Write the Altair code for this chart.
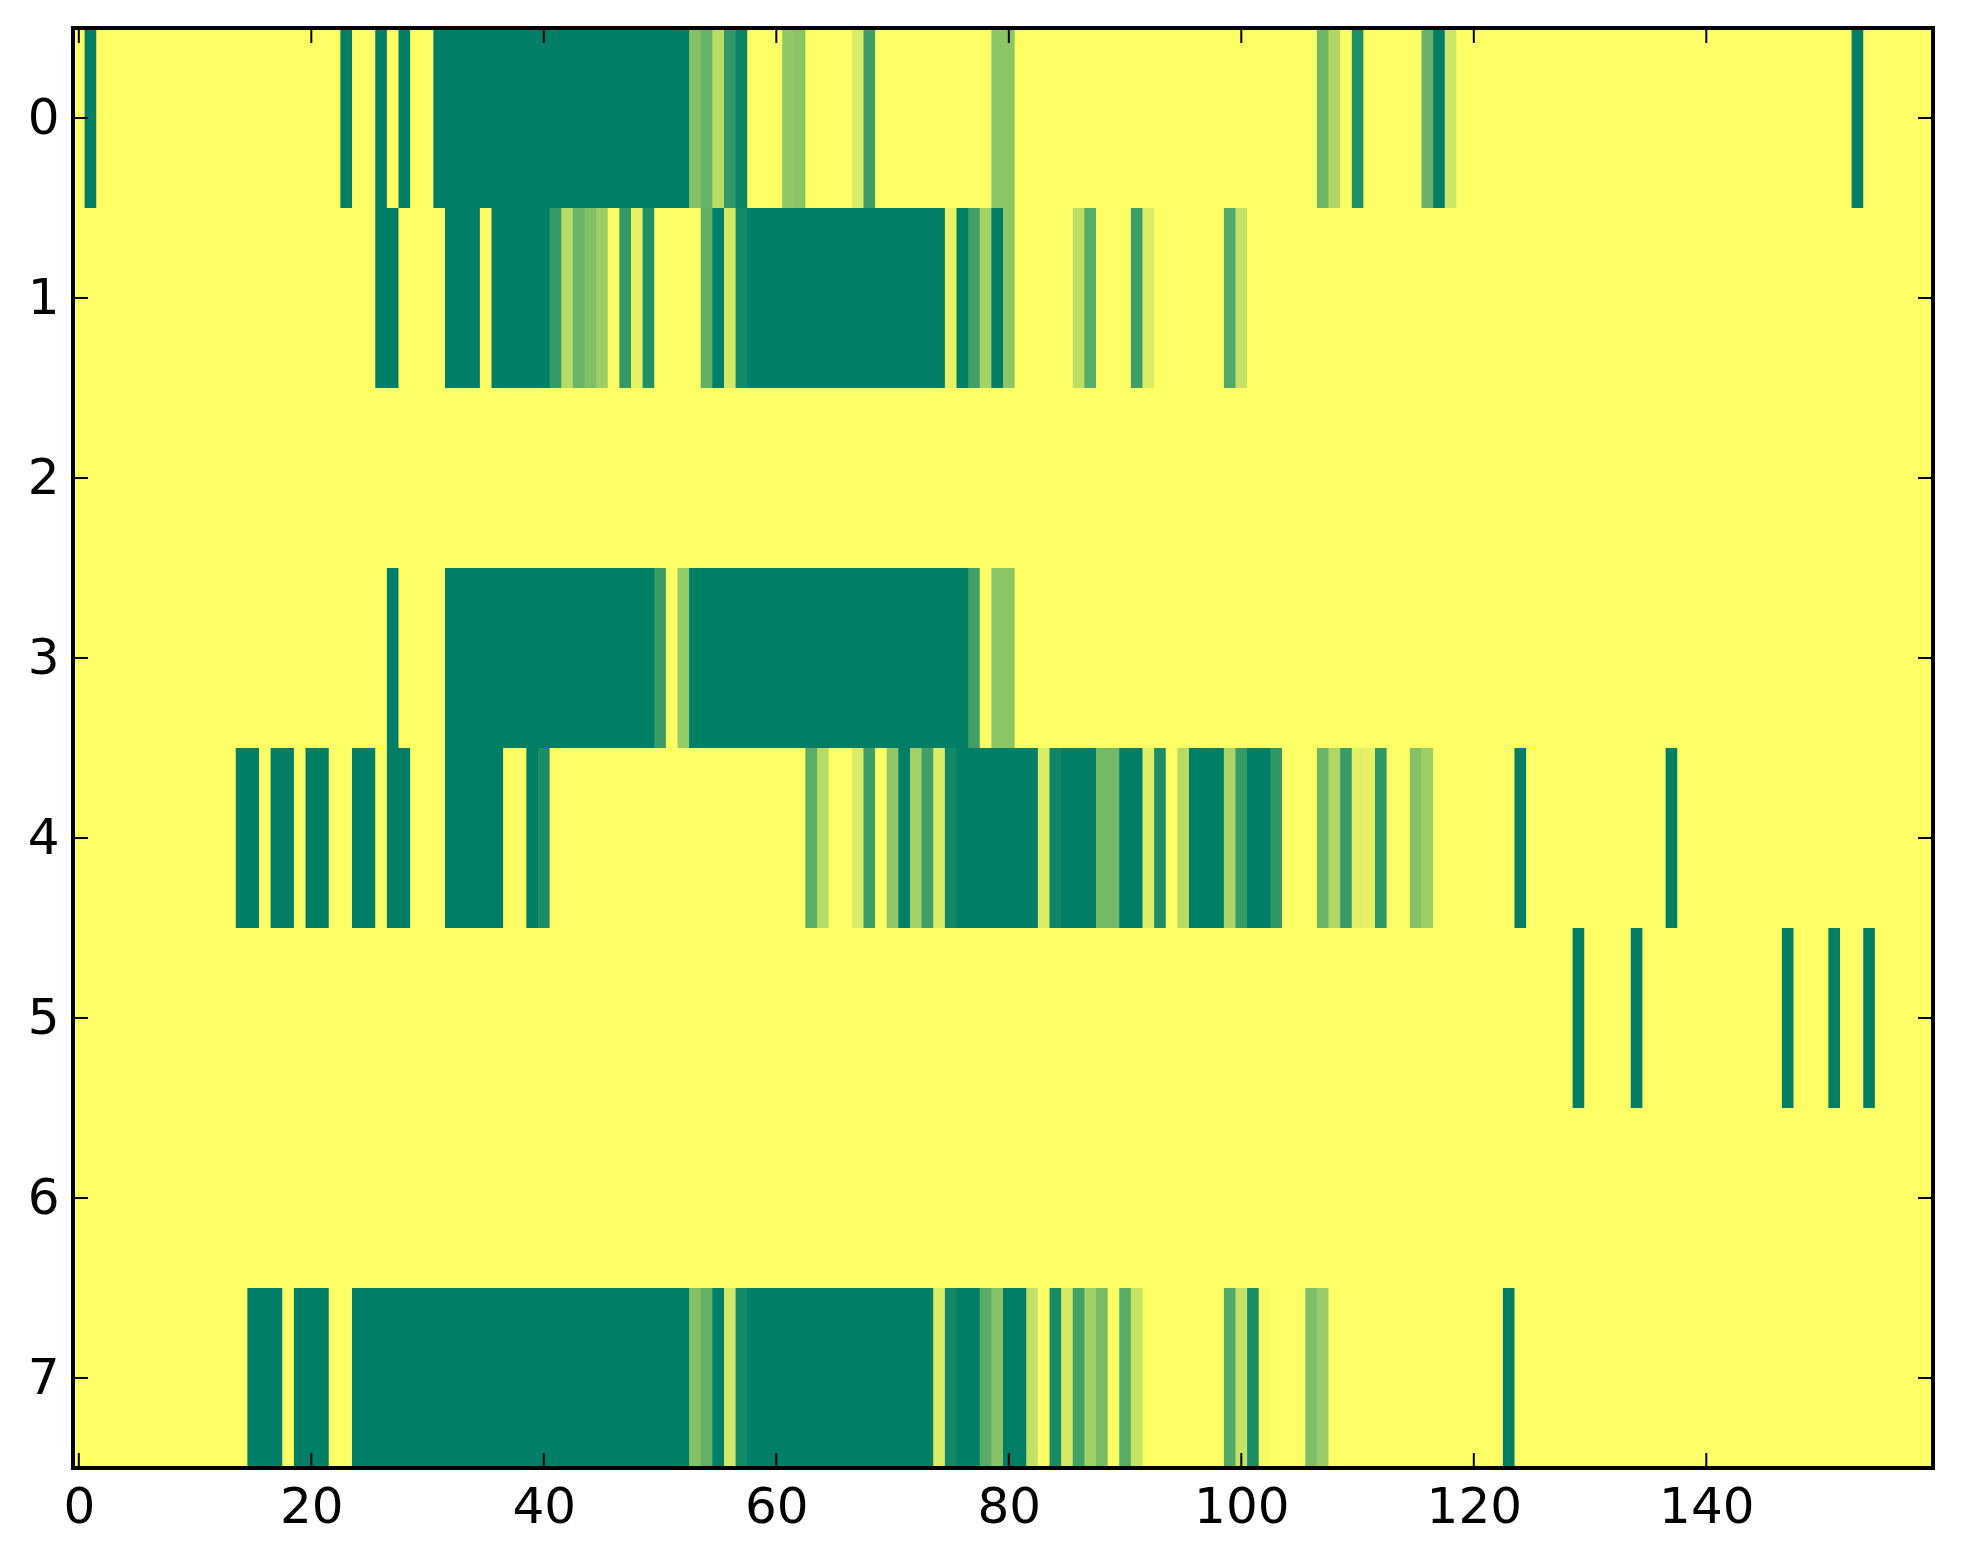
import altair as alt
import pandas as pd

# Each row: (first column, last column, level) with level 0 = yellow, 1 = full green
ROW0 = [(1,1,1),(23,23,1),(26,26,1),(28,28,1),(31,52,1),(53,53,.48),(54,54,.60),(55,55,.28),(56,56,.81),(57,57,.96),
        (61,61,.43),(62,62,.46),(67,67,.14),(68,68,.76),(79,80,.45),(107,107,.57),(108,108,.31),(110,110,.87),
        (116,116,.59),(117,117,1),(118,118,.20),(153,153,1)]
ROW1 = [(26,27,1),(32,34,1),(36,40,1),(41,41,.79),(42,42,.29),(43,43,.58),(44,44,.49),(45,45,.38),(47,47,.80),
        (48,48,.10),(49,49,.87),(54,54,.62),(55,55,1),(56,56,.17),(57,57,.92),(58,74,1),(75,75,.10),(76,76,1),
        (77,77,.75),(78,78,.35),(79,79,1),(80,80,.45),(86,86,.26),(87,87,.65),(91,91,.76),(92,92,.14),
        (99,99,.68),(100,100,.23)]
ROW3 = [(27,27,1),(32,49,1),(50,50,.77),(52,52,.41),(53,76,1),(77,77,.75),(79,80,.45)]
ROW4 = [(14,15,1),(17,18,1),(20,21,1),(24,25,1),(27,28,1),(32,36,1),(39,39,1),(40,40,.90),(63,63,.64),(64,64,.29),
        (67,67,.14),(68,68,.76),(70,70,.44),(71,71,1),(72,72,.36),(73,73,.75),(74,74,.15),(75,75,.93),(76,82,1),
        (83,83,.14),(84,84,.95),(85,87,1),(88,89,.55),(90,91,1),(92,92,.13),(93,93,.89),(95,95,.28),(96,98,1),
        (99,99,.33),(100,100,.79),(101,102,1),(103,103,.81),(107,107,.58),(108,108,.31),(109,109,.78),
        (110,110,.12),(111,111,.10),(112,112,.81),(115,115,.48),(116,116,.38),(124,124,1),(137,137,1)]
ROW5 = [(129,129,1),(134,134,1),(147,147,1),(151,151,1),(154,154,1)]
ROW7 = [(15,17,1),(19,21,1),(24,52,1),(53,53,.48),(54,54,.61),(55,55,1),(56,56,.18),(57,57,.92),(58,73,1),
        (74,74,.15),(75,75,.93),(76,77,1),(78,78,.65),(79,79,.47),(80,81,1),(82,82,.24),(84,84,.91),(85,85,.17),
        (86,86,.73),(87,87,.37),(88,88,.53),(90,90,.65),(91,91,.22),(99,99,.68),(100,100,.23),(101,101,.89),
        (102,102,.03),(106,106,.50),(107,107,.40),(123,123,1)]
ROWS = {0: ROW0, 1: ROW1, 3: ROW3, 4: ROW4, 5: ROW5, 7: ROW7}
X_TICKS = [0, 20, 40, 60, 80, 100, 120, 140]
Y_TICKS = [0, 1, 2, 3, 4, 5, 6, 7]
X_MIN, X_MAX, Y_MIN, Y_MAX = -0.5, 159.5, -0.5, 7.5

W, H = 1860, 1440
TICK = 15

records = []
for row, segs in ROWS.items():
    for i, (a, b, lv) in enumerate(segs):
        touching = i + 1 < len(segs) and segs[i + 1][0] == b + 1
        records.append(dict(x=a - 0.5, x2=b + 0.5 + (0.1 if touching else 0),
                            y=row - 0.5, y2=row + 0.5, level=lv, order=len(records)))
cells = pd.DataFrame(records)

xs = alt.Scale(domain=[X_MIN, X_MAX], nice=False, zero=False)
ys = alt.Scale(domain=[Y_MIN, Y_MAX], nice=False, zero=False, reverse=True)
BLACK = "#000000"

rects = alt.Chart(cells).mark_rect(strokeWidth=0).encode(
    x=alt.X("x:Q", scale=xs, axis=alt.Axis(values=X_TICKS, title=None, grid=False, domain=False, ticks=False,
                                            labelFontSize=50, labelFont="DejaVu Sans", labelColor=BLACK,
                                            labelPadding=14, labelFlush=False, labelOverlap=False, format="d")),
    x2="x2:Q",
    y=alt.Y("y:Q", scale=ys, axis=alt.Axis(values=Y_TICKS, title=None, grid=False, domain=False, ticks=False,
                                            labelFontSize=50, labelFont="DejaVu Sans", labelColor=BLACK,
                                            labelPadding=14, labelFlush=False, labelOverlap=False, format="d")),
    y2="y2:Q",
    color=alt.Color("level:Q", legend=None,
                    scale=alt.Scale(domain=[0, 1], range=["#ffff66", "#007f66"], interpolate="rgb")),
    order="order:Q",
)

xt = pd.DataFrame({"v": X_TICKS})
yt = pd.DataFrame({"v": Y_TICKS})
tick = dict(color=BLACK, strokeWidth=2)
layers = [
    rects,
    alt.Chart(xt).mark_rule(**tick).encode(x=alt.X("v:Q", scale=xs), y=alt.value(0), y2=alt.value(TICK)),
    alt.Chart(xt).mark_rule(**tick).encode(x=alt.X("v:Q", scale=xs), y=alt.value(H - TICK), y2=alt.value(H)),
    alt.Chart(yt).mark_rule(**tick).encode(y=alt.Y("v:Q", scale=ys), x=alt.value(0), x2=alt.value(TICK)),
    alt.Chart(yt).mark_rule(**tick).encode(y=alt.Y("v:Q", scale=ys), x=alt.value(W - TICK), x2=alt.value(W)),
]
spines = pd.DataFrame([
    dict(x=X_MIN, x2=X_MAX, y=Y_MIN, y2=Y_MIN),
    dict(x=X_MIN, x2=X_MAX, y=Y_MAX, y2=Y_MAX),
    dict(x=X_MIN, x2=X_MIN, y=Y_MIN, y2=Y_MAX),
    dict(x=X_MAX, x2=X_MAX, y=Y_MIN, y2=Y_MAX),
])
layers.append(alt.Chart(spines).mark_rule(color=BLACK, strokeWidth=4, strokeCap="square").encode(
    x=alt.X("x:Q", scale=xs), x2="x2:Q", y=alt.Y("y:Q", scale=ys), y2="y2:Q"))

chart = alt.layer(*layers).properties(
    width=W, height=H,
    autosize=alt.AutoSizeParams(type="none"),
    padding={"left": 65, "top": 20, "right": 10, "bottom": 80},
    background="#ffffff",
).configure_view(fill="#ffff66", stroke=None)

chart.save("out.html", embed_options={"renderer": "svg", "actions": False})
